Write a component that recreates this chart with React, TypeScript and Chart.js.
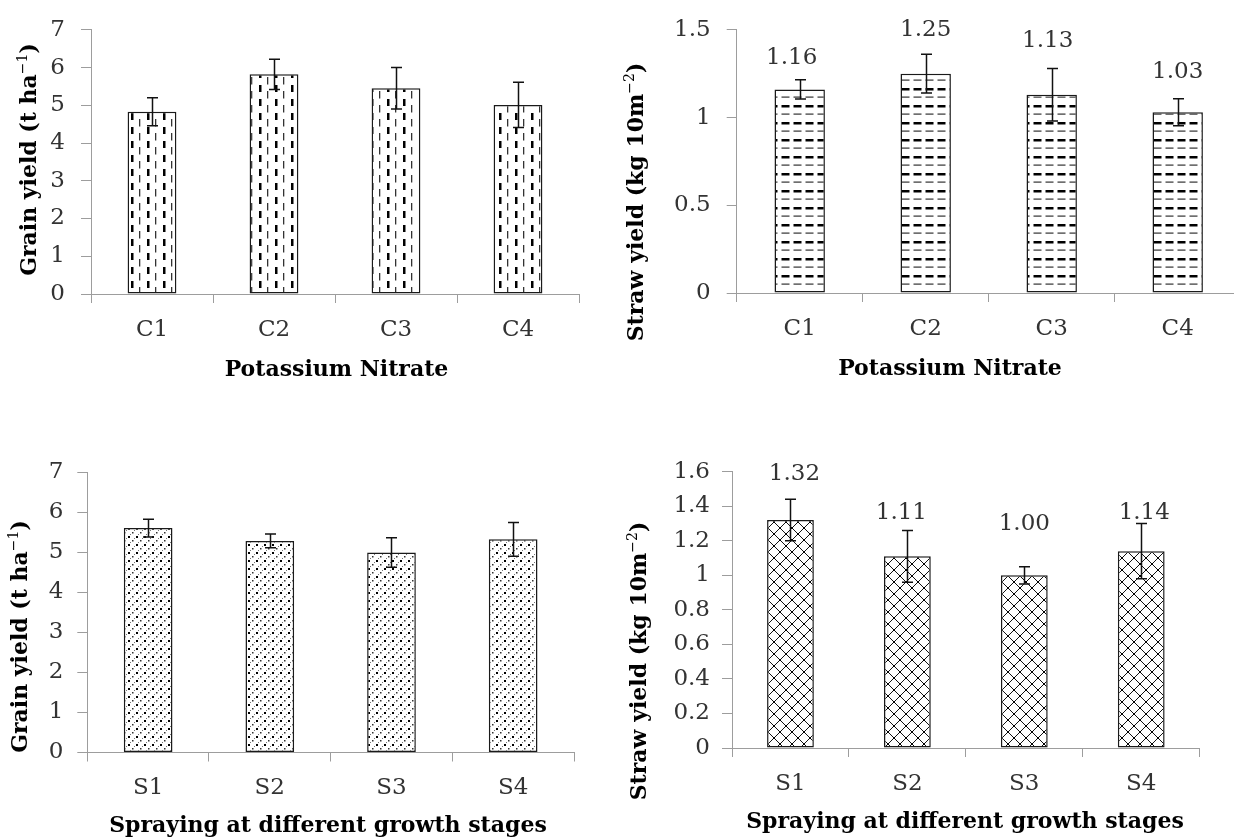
import React, { useEffect, useRef } from 'react';
import { Chart, registerables } from 'chart.js';

Chart.register(...registerables);

// ---------------- DATA ----------------
const potassiumCategories = ['C1', 'C2', 'C3', 'C4'];
const sprayCategories = ['S1', 'S2', 'S3', 'S4'];

const grainPotassium = [4.83, 5.82, 5.45, 5.01];
const grainPotassiumErr = [0.37, 0.4, 0.55, 0.6];

const strawPotassium = [1.16, 1.25, 1.13, 1.03];
const strawPotassiumErr = [0.055, 0.11, 0.15, 0.077];
const strawPotassiumLabels = ['1.16', '1.25', '1.13', '1.03'];

const grainSpray = [5.6, 5.28, 4.99, 5.32];
const grainSprayErr = [0.22, 0.17, 0.37, 0.42];

const strawSpray = [1.32, 1.11, 1.0, 1.14];
const strawSprayErr = [0.12, 0.15, 0.05, 0.16];
const strawSprayLabels = ['1.32', '1.11', '1.00', '1.14'];

const grainAxisMax = 7;
const grainAxisStep = 1;
const strawPotassiumAxisMax = 1.5;
const strawPotassiumAxisStep = 0.5;
const strawSprayAxisMax = 1.6;
const strawSprayAxisStep = 0.2;

const grainTitle = [{ t: 'Grain yield (t ha' }, { t: '\u22121', sup: true }, { t: ')' }];
const strawTitle = [{ t: 'Straw yield (kg 10m' }, { t: '\u22122', sup: true }, { t: ')' }];
const potassiumTitle = 'Potassium Nitrate';
const sprayTitle = 'Spraying at different growth stages';

// ---------------- STYLE / LAYOUT ----------------
const CANVAS_W = 1300;
const CANVAS_H = 839;
const Y_AXIS_W = 80;
const X_AXIS_H = 70;
const SERIF = '"DejaVu Serif", "Liberation Serif", serif';
const AXIS_GREY = '#9d9d9d';
const TEXT_COLOR = '#333333';
const TICK_SIZE = 23;

type Seg = { t: string; sup?: boolean };

interface Panel {
  key: string;
  categories: string[];
  values: number[];
  errors: number[];
  labels?: string[];
  yMax: number;
  yStep: number;
  pattern: 'vdash' | 'hdash' | 'dots' | 'diamond';
  plot: { left: number; right: number; top: number; bottom: number };
  yTickPad: number;
  xTickPad: number;
  yTitle: Seg[];
  yTitlePos: { x: number; y: number };
  xTitle: string;
  xTitlePos: { x: number; y: number };
  labelLift?: number[];
  labelShift?: number[];
}

const panels: Panel[] = [
  {
    key: 'tl',
    categories: potassiumCategories,
    values: grainPotassium,
    errors: grainPotassiumErr,
    yMax: grainAxisMax,
    yStep: grainAxisStep,
    pattern: 'vdash',
    plot: { left: 91, right: 579, top: 24.5, bottom: 294 },
    yTickPad: 16,
    xTickPad: 13,
    yTitle: grainTitle,
    yTitlePos: { x: 30, y: 159.5 },
    xTitle: potassiumTitle,
    xTitlePos: { x: 336.5, y: 370 },
  },
  {
    key: 'tr',
    categories: potassiumCategories,
    values: strawPotassium,
    errors: strawPotassiumErr,
    labels: strawPotassiumLabels,
    yMax: strawPotassiumAxisMax,
    yStep: strawPotassiumAxisStep,
    pattern: 'hdash',
    plot: { left: 736.7, right: 1240.7, top: 24.5, bottom: 293 },
    yTickPad: 16,
    xTickPad: 13,
    yTitle: strawTitle,
    yTitlePos: { x: 637, y: 202 },
    xTitle: potassiumTitle,
    xTitlePos: { x: 950, y: 369 },
    labelLift: [22, 24, 27, 27],
    labelShift: [-8, 0, -4, 0],
  },
  {
    key: 'bl',
    categories: sprayCategories,
    values: grainSpray,
    errors: grainSprayErr,
    yMax: grainAxisMax,
    yStep: grainAxisStep,
    pattern: 'dots',
    plot: { left: 87.3, right: 574, top: 472, bottom: 752.5 },
    yTickPad: 14,
    xTickPad: 13,
    yTitle: grainTitle,
    yTitlePos: { x: 21, y: 636.5 },
    xTitle: sprayTitle,
    xTitlePos: { x: 328, y: 826 },
  },
  {
    key: 'br',
    categories: sprayCategories,
    values: strawSpray,
    errors: strawSprayErr,
    labels: strawSprayLabels,
    yMax: strawSprayAxisMax,
    yStep: strawSprayAxisStep,
    pattern: 'diamond',
    plot: { left: 732, right: 1199.7, top: 471.7, bottom: 748 },
    yTickPad: 12,
    xTickPad: 13,
    yTitle: strawTitle,
    yTitlePos: { x: 640, y: 661 },
    xTitle: sprayTitle,
    xTitlePos: { x: 965, y: 822 },
    labelLift: [25, 17, 43, 10],
    labelShift: [4, -6, 0, 3],
  },
];

// ---------------- PATTERNS ----------------
function makePattern(kind: Panel['pattern']): CanvasPattern | string {
  const c = document.createElement('canvas');
  const g = c.getContext('2d');
  if (!g) return '#ffffff';
  if (kind === 'vdash') {
    c.width = 16; c.height = 14;
    g.fillStyle = '#fff'; g.fillRect(0, 0, 16, 14);
    g.fillStyle = '#000'; g.fillRect(3, 1, 2.5, 7);
    g.fillStyle = '#333'; g.fillRect(11, 7, 1.3, 7);
    g.fillRect(11, 0, 1.3, 0.5);
  } else if (kind === 'hdash') {
    c.width = 12; c.height = 17;
    g.fillStyle = '#fff'; g.fillRect(0, 0, 12, 17);
    g.fillStyle = '#000'; g.fillRect(1.5, 3, 8, 2.5);
    g.fillStyle = '#333'; g.fillRect(1.5, 11.5, 8, 1.2);
  } else if (kind === 'dots') {
    c.width = 8; c.height = 8;
    g.fillStyle = '#fff'; g.fillRect(0, 0, 8, 8);
    g.fillStyle = '#000'; g.fillRect(0, 0, 2, 2);
    g.fillStyle = '#333'; g.fillRect(4, 4, 1.5, 1.5);
    g.fillStyle = '#777'; g.fillRect(2, 6, 1, 1); g.fillRect(6, 2, 1, 1);
  } else {
    c.width = 12; c.height = 12;
    g.fillStyle = '#fff'; g.fillRect(0, 0, 12, 12);
    g.strokeStyle = '#111'; g.lineWidth = 1;
    g.beginPath();
    g.moveTo(0, 0); g.lineTo(12, 12);
    g.moveTo(12, 0); g.lineTo(0, 12);
    g.stroke();
    g.fillStyle = '#000';
    g.fillRect(5, 5, 2, 2);
    g.fillRect(0, 0, 1, 1); g.fillRect(11, 0, 1, 1); g.fillRect(0, 11, 1, 1); g.fillRect(11, 11, 1, 1);
  }
  const p = g.createPattern(c, 'repeat');
  return p || '#ffffff';
}

// ---------------- TEXT HELPERS ----------------
const BOLD_FONT = `bold 22px ${SERIF}`;
const SUP_FONT = `14px ${SERIF}`;

function segWidths(ctx: CanvasRenderingContext2D, segs: Seg[]) {
  return segs.map((s) => {
    ctx.font = s.sup ? SUP_FONT : BOLD_FONT;
    return ctx.measureText(s.t).width;
  });
}

function drawSegs(ctx: CanvasRenderingContext2D, segs: Seg[], cx: number, cy: number, rotate: boolean) {
  ctx.save();
  ctx.translate(cx, cy);
  if (rotate) ctx.rotate(-Math.PI / 2);
  const widths = segWidths(ctx, segs);
  const total = widths.reduce((a, b) => a + b, 0);
  let x = -total / 2;
  ctx.fillStyle = '#000';
  ctx.textAlign = 'left';
  ctx.textBaseline = 'middle';
  segs.forEach((s, i) => {
    ctx.font = s.sup ? SUP_FONT : BOLD_FONT;
    ctx.fillText(s.t, x, s.sup ? -7 : 0);
    x += widths[i];
  });
  ctx.restore();
}

// ---------------- CHART ----------------
function PanelChart({ panel }: { panel: Panel }) {
  const ref = useRef<HTMLCanvasElement>(null);

  useEffect(() => {
    const canvas = ref.current;
    if (!canvas) return;
    const fill = makePattern(panel.pattern);

    const overlay = {
      id: 'overlay_' + panel.key,
      afterDatasetsDraw(chart: any) {
        const ctx: CanvasRenderingContext2D = chart.ctx;
        const meta = chart.getDatasetMeta(0);
        const ys = chart.scales.y;
        ctx.save();
        ctx.strokeStyle = '#111';
        ctx.lineWidth = 1.5;
        meta.data.forEach((bar: any, i: number) => {
          const v = panel.values[i];
          const e = panel.errors[i];
          const x = Math.round(bar.x) + 0.5;
          const yTop = ys.getPixelForValue(v + e);
          const yBot = ys.getPixelForValue(v - e);
          ctx.beginPath();
          ctx.moveTo(x, yTop); ctx.lineTo(x, yBot);
          ctx.moveTo(x - 5.5, yTop); ctx.lineTo(x + 5.5, yTop);
          ctx.moveTo(x - 5.5, yBot); ctx.lineTo(x + 5.5, yBot);
          ctx.stroke();
        });
        if (panel.labels) {
          ctx.font = `${TICK_SIZE}px ${SERIF}`;
          ctx.fillStyle = TEXT_COLOR;
          ctx.textAlign = 'center';
          ctx.textBaseline = 'middle';
          meta.data.forEach((bar: any, i: number) => {
            const v = panel.values[i];
            const e = panel.errors[i];
            const lift = panel.labelLift ? panel.labelLift[i] : 24;
            const shift = panel.labelShift ? panel.labelShift[i] : 0;
            ctx.fillText(panel.labels![i], bar.x + shift, ys.getPixelForValue(v + e) - lift);
          });
        }
        ctx.restore();
      },
      afterDraw(chart: any) {
        const ctx: CanvasRenderingContext2D = chart.ctx;
        drawSegs(ctx, panel.yTitle, panel.yTitlePos.x, panel.yTitlePos.y, true);
        drawSegs(ctx, [{ t: panel.xTitle }], panel.xTitlePos.x, panel.xTitlePos.y, false);
      },
    };

    const chart = new Chart(canvas, {
      type: 'bar',
      data: {
        labels: panel.categories,
        datasets: [
          {
            data: panel.values,
            backgroundColor: fill as any,
            borderColor: '#1a1a1a',
            borderWidth: 1.5,
            borderSkipped: false,
            categoryPercentage: 1,
            barPercentage: 0.4,
          },
        ],
      },
      options: {
        responsive: false,
        animation: false,
        devicePixelRatio: 1,
        layout: {
          padding: {
            left: panel.plot.left - Y_AXIS_W,
            right: CANVAS_W - panel.plot.right,
            top: panel.plot.top,
            bottom: CANVAS_H - panel.plot.bottom - X_AXIS_H,
          },
        },
        plugins: {
          legend: { display: false },
          tooltip: { enabled: false },
          title: { display: false },
        },
        scales: {
          x: {
            type: 'category',
            offset: true,
            afterFit: (s: any) => { s.height = X_AXIS_H; },
            grid: {
              offset: true,
              drawOnChartArea: false,
              drawTicks: true,
              tickLength: 9,
              color: AXIS_GREY,
              lineWidth: 1,
            },
            border: { display: true, color: AXIS_GREY, width: 1 },
            ticks: {
              color: TEXT_COLOR,
              font: { family: SERIF, size: TICK_SIZE },
              padding: panel.xTickPad,
              maxRotation: 0,
              autoSkip: false,
            },
          },
          y: {
            min: 0,
            max: panel.yMax,
            afterFit: (s: any) => { s.width = Y_AXIS_W; },
            grid: {
              drawOnChartArea: false,
              drawTicks: true,
              tickLength: 10,
              color: AXIS_GREY,
              lineWidth: 1,
            },
            border: { display: true, color: AXIS_GREY, width: 1 },
            ticks: {
              stepSize: panel.yStep,
              color: TEXT_COLOR,
              font: { family: SERIF, size: TICK_SIZE },
              padding: panel.yTickPad,
              callback: (v: any) => String(Math.round(Number(v) * 10) / 10),
            },
          },
        },
      },
      plugins: [overlay],
    });

    return () => chart.destroy();
  }, [panel]);

  return (
    <canvas
      ref={ref}
      width={CANVAS_W}
      height={CANVAS_H}
      style={{ position: 'absolute', left: 0, top: 0, width: CANVAS_W, height: CANVAS_H }}
    />
  );
}

export default function App() {
  return (
    <div
      style={{
        position: 'fixed',
        left: 0,
        top: 0,
        width: 1234,
        height: 839,
        overflow: 'hidden',
        background: '#ffffff',
      }}
    >
      {panels.map((p) => (
        <PanelChart key={p.key} panel={p} />
      ))}
    </div>
  );
}
